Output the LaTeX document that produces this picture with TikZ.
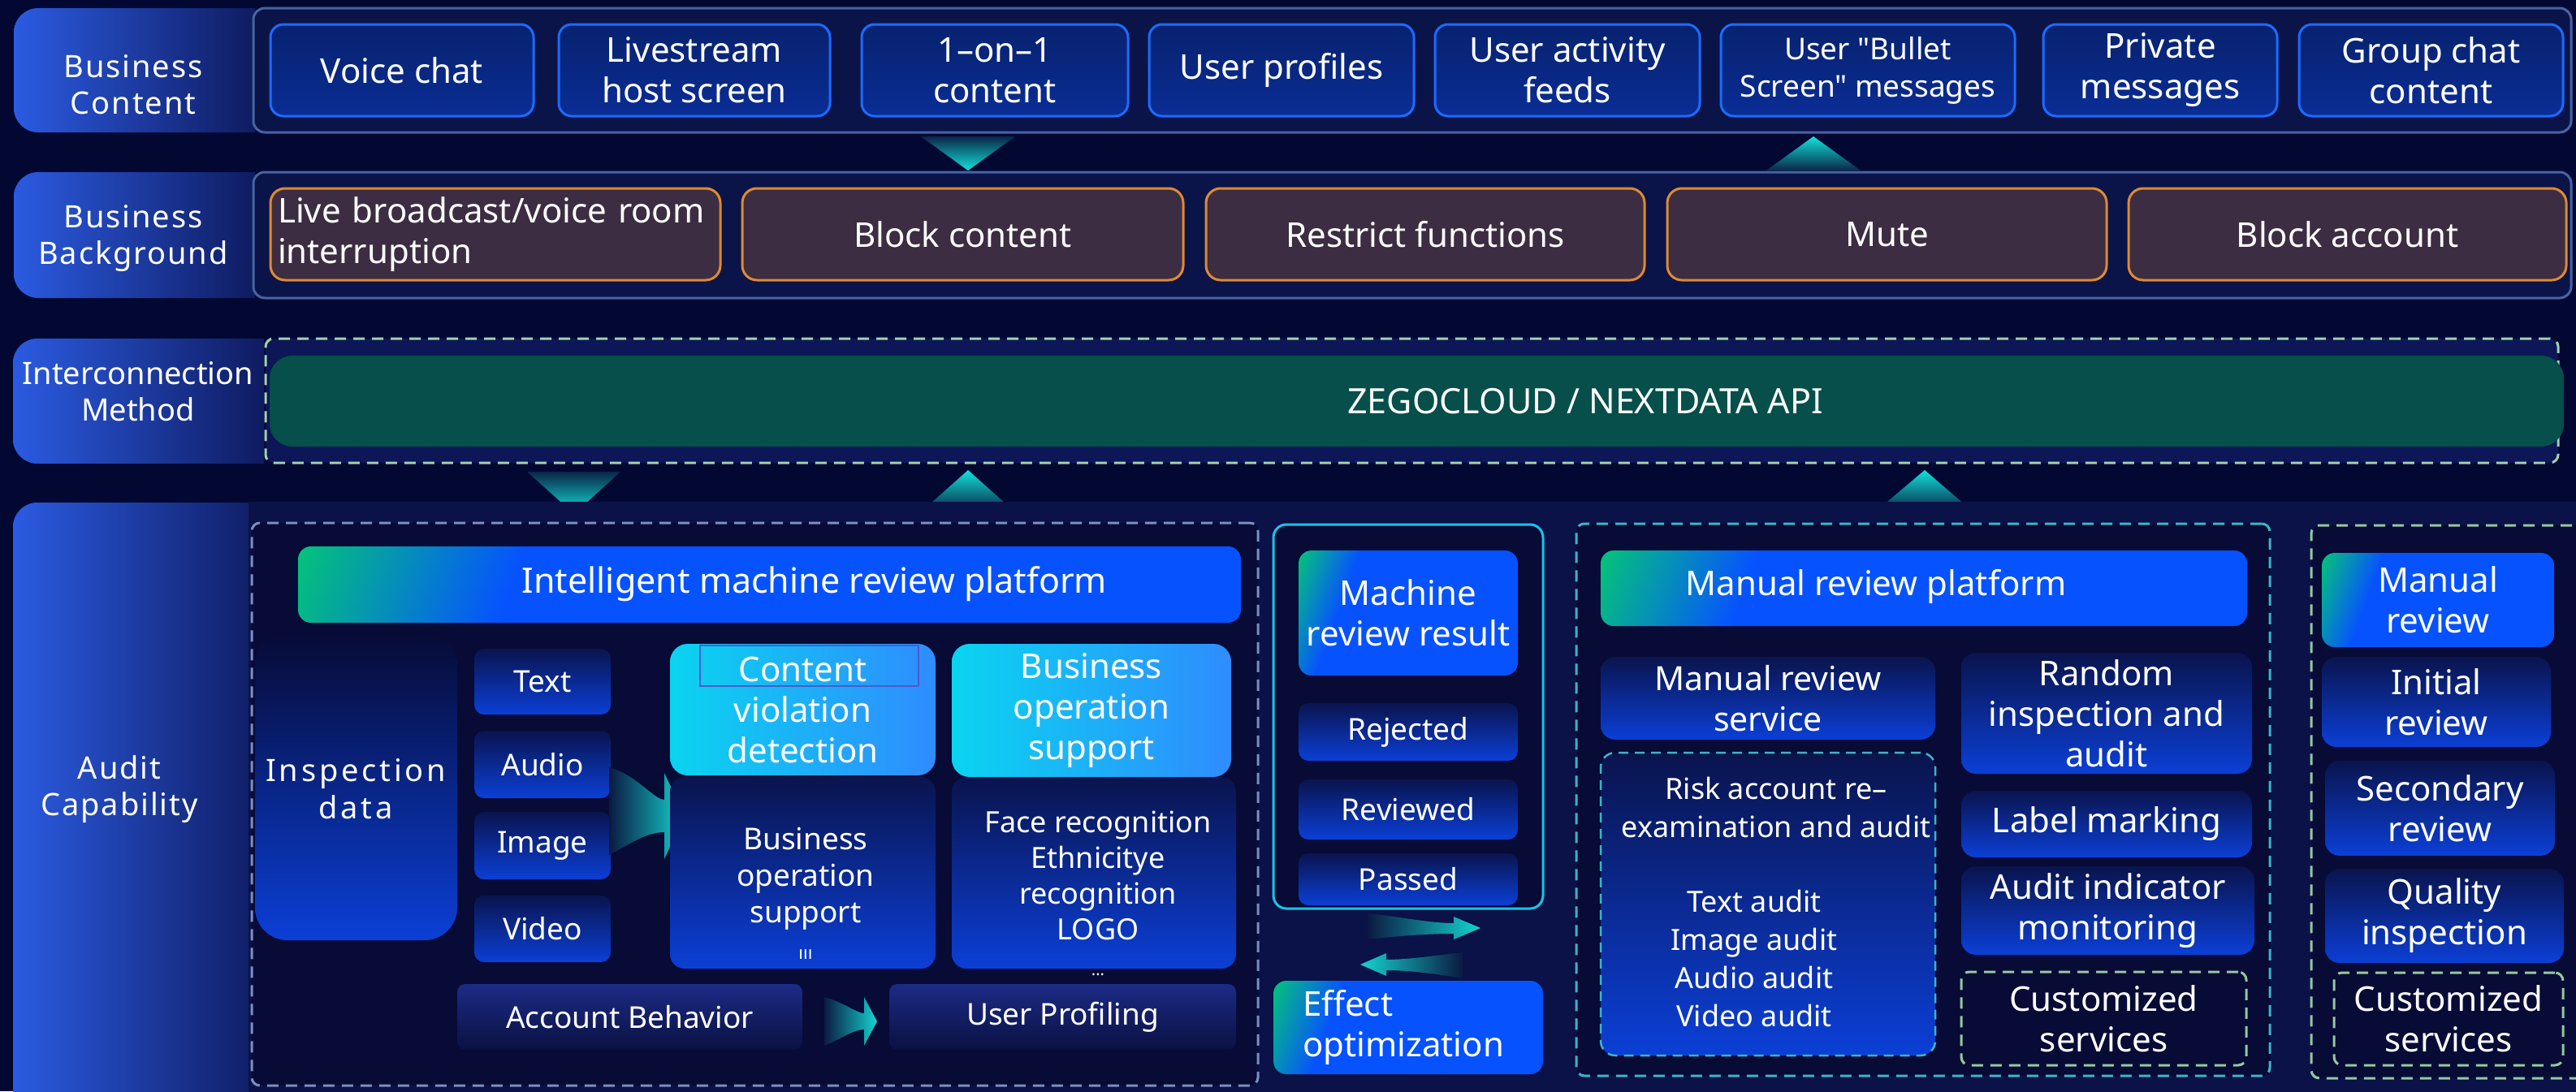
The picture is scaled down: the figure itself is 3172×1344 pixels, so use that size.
\documentclass[tikz,border=0pt]{standalone}
\usepackage{fontspec}
\setmainfont{Noto Sans}[Ligatures=TeXOff]
\newfontfamily\lblfont{Noto Sans}[LetterSpace=5,Ligatures=TeXOff]
\newfontfamily\inspfont{Noto Sans}[LetterSpace=10,Ligatures=TeXOff]
\definecolor{bgc}{HTML}{030833}
\definecolor{panelc}{HTML}{0B1449}
\definecolor{panelEdge}{HTML}{4863A3}
\definecolor{row3c}{HTML}{0D1656}
\definecolor{panel4}{HTML}{0A1247}
\definecolor{innerc}{HTML}{070B36}
\definecolor{lblL}{HTML}{2B5BE2}
\definecolor{lblR}{HTML}{0B1350}
\definecolor{cbTop}{HTML}{08226F}
\definecolor{cbBot}{HTML}{0A2D95}
\definecolor{cbEdge}{HTML}{1C6BFF}
\definecolor{obFill}{HTML}{3C2D42}
\definecolor{obEdge}{HTML}{DD8A33}
\definecolor{gTop}{HTML}{0A144E}
\definecolor{gBot}{HTML}{0B3FD6}
\definecolor{rTop}{HTML}{1C2B86}
\definecolor{rBot}{HTML}{0A1142}
\definecolor{lbL}{HTML}{0AD4F0}
\definecolor{lbR}{HTML}{2F8CFF}
\definecolor{tGreen}{HTML}{05C27A}
\definecolor{tTeal}{HTML}{0590B8}
\definecolor{tBlue}{HTML}{0652FF}
\definecolor{apiG}{HTML}{064F4A}
\definecolor{dashG}{HTML}{A0D0B0}
\definecolor{dashB}{HTML}{7C8EC2}
\definecolor{dashC}{HTML}{3CB4C8}
\definecolor{dashLG}{HTML}{96C89E}
\definecolor{cyanEdge}{HTML}{18C4E8}
\definecolor{triDark}{HTML}{0A2648}
\definecolor{cyanc}{HTML}{12E2DA}
\definecolor{swL}{HTML}{0B1A42}
\definecolor{swR}{HTML}{14D4D0}
\definecolor{rectc}{HTML}{4A5CC8}
\pgfdeclarehorizontalshading{titleshade}{100bp}{color(0bp)=(tGreen); color(18bp)=(tGreen); color(25bp)=(tTeal); color(33bp)=(tBlue); color(100bp)=(tBlue)}
\newcommand\fzM{\fontsize{42}{50}\selectfont}
\newcommand\fzS{\fontsize{37}{45}\selectfont}
\newcommand\fzB{\fontsize{37}{46}\selectfont}
\newcommand\fzT{\fontsize{36}{47}\selectfont}
\newcommand\fzL{\lblfont\fontsize{38}{45}\selectfont}
\newcommand\bxx[7]{%
  \pgfmathsetmacro\bw{#5-#3}%
  \pgfmathsetmacro\bh{#6-#4}%
  \node[#2, minimum width=\bw pt, minimum height=\bh pt, anchor=north west] (#1) at (#3,#4) {#7};%
}
\newcommand\lblbox[5]{%
  \begin{scope}
  \clip (#2,#3) rectangle (#4,#5);
  \pgfmathsetmacro\bw{#4-#2+40}%
  \pgfmathsetmacro\bh{#5-#3}%
  \node[lbl, minimum width=\bw pt, minimum height=\bh pt, anchor=north west] (#1) at (#2,#3) {};
  \end{scope}%
}
\begin{document}
\begin{tikzpicture}[x=1pt,y=-1pt,
  every node/.style={text=white, align=center, inner sep=0pt, outer sep=0pt},
  lbl/.style={left color=lblL, right color=lblR, rounded corners=30pt},
  lbltxt/.style={font=\fzL},
  panelbox/.style={fill=panelc, draw=panelEdge, line width=3pt, rounded corners=14pt},
  cbox/.style={top color=cbTop, bottom color=cbBot, draw=cbEdge, line width=3pt, rounded corners=16pt, font=\fzM},
  obox/.style={fill=obFill, draw=obEdge, line width=3pt, rounded corners=18pt, font=\fzM},
  gbox/.style={top color=gTop, bottom color=gBot, rounded corners=18pt, font=\fzM},
  gboxS/.style={top color=gTop, bottom color=gBot, rounded corners=18pt, font=\fzS},
  rbox/.style={top color=rTop, bottom color=rBot, rounded corners=10pt, font=\fzS},
  lbox/.style={left color=lbL, right color=lbR, rounded corners=22pt, font=\fzM},
  tbox/.style={shade, shading=titleshade, shading angle=-20, rounded corners=16pt, font=\fzM},
  dashbox/.style={line width=3pt, dash pattern=on 14pt off 9pt, rounded corners=10pt},
  tri/.style={draw=none}
]
\useasboundingbox (0,0) rectangle (3172,1344);
\clip (0,0) rectangle (3172,1344);
\fill[bgc] (0,0) rectangle (3172,1344);

% ---------- Row 1: Business Content
\lblbox{bcL}{17}{10}{314}{163}
\bxx{bcP}{panelbox}{312}{10}{3166}{163}{}
\node[lbltxt] (bcT) at (164,104) {Business\\Content};
\bxx{c1}{cbox}{333}{30}{657}{143}{Voice chat}
\bxx{c2}{cbox}{688}{30}{1022}{143}{Livestream\\host screen}
\bxx{c3}{cbox}{1061}{30}{1389}{143}{1–on–1\\content}
\bxx{c4}{cbox}{1415}{30}{1741}{143}{User profiles}
\bxx{c5}{cbox}{1767}{30}{2093}{143}{User activity\\feeds}
\bxx{c6}{cbox, font=\fzB}{2119}{30}{2481}{143}{User "Bullet\\Screen" messages}
\bxx{c7}{cbox}{2516}{30}{2804}{143}{Private\\messages}
\bxx{c8}{cbox}{2831}{30}{3156}{143}{Group chat\\content}

% ---------- Row 2: Business Background
\lblbox{bbL}{17}{212}{314}{367}
\bxx{bbP}{panelbox}{312}{212}{3166}{367}{}
\node[lbltxt] (bbT) at (164,294) {Business\\Background};
\bxx{o1}{obox, text width=536pt, align=left}{333}{232}{887}{345}{Live broadcast/voice room\\interruption}
\bxx{o2}{obox}{914}{232}{1457}{345}{Block content}
\bxx{o3}{obox}{1485}{232}{2025}{345}{Restrict functions}
\bxx{o4}{obox}{2053}{232}{2594}{345}{Mute}
\bxx{o5}{obox}{2621}{232}{3160}{345}{Block account}

% triangles row1-row2
\shade[tri, top color=triDark, bottom color=cyanc] (1134,168) -- (1250,168) -- (1192,210) -- cycle;
\shade[tri, top color=cyanc, bottom color=triDark] (2175,210) -- (2291,210) -- (2233,168) -- cycle;

% ---------- Row 3: Interconnection Method
\lblbox{imL}{16}{417}{325}{571}
\node[font=\fontsize{38}{45}\selectfont] (imT) at (170,482) {Interconnection\\Method};
\bxx{imP}{dashbox, draw=dashG, fill=row3c}{327}{417}{3150}{570}{}
\bxx{api}{fill=apiG, rounded corners=28pt}{332}{438}{3157}{550}{}
\node[font=\fontsize{43}{50}\selectfont] (apiT) at (1952,494) {ZEGOCLOUD / NEXTDATA API};

% triangles row3-row4
\shade[tri, top color=triDark, bottom color=cyanc] (649,581) -- (764,581) -- (707,633) -- cycle;
\shade[tri, top color=cyanc, bottom color=triDark] (1136,629) -- (1248,629) -- (1192,579) -- cycle;
\shade[tri, top color=cyanc, bottom color=triDark] (2311,629) -- (2428,629) -- (2370,579) -- cycle;

% ---------- Row 4: Audit Capability
\lblbox{acL}{16}{619}{330}{1390}
\bxx{acP}{fill=panel4}{306}{618}{3200}{1400}{}
\node[lbltxt] (acT) at (147,972) {Audit\\Capability};

% machine review dashed box
\bxx{mdB}{dashbox, draw=dashB, fill=innerc}{310}{644}{1549}{1337}{}
\bxx{tM}{tbox}{367}{673}{1528}{767}{}
\node[font=\fontsize{43}{50}\selectfont] (tMT) at (1003,719) {Intelligent machine review platform};
\bxx{insp}{top color=innerc, bottom color=gBot, rounded corners=40pt}{314}{780}{563}{1158}{}
\node[font=\inspfont\fontsize{38}{46}\selectfont] (inspT) at (438,972) {Inspection\\data};
\bxx{tText}{gboxS, rounded corners=12pt}{584}{799}{752}{880}{Text}
\bxx{tAudio}{gboxS, rounded corners=12pt}{584}{900}{752}{983}{Audio}
\bxx{tImage}{gboxS, rounded corners=12pt}{584}{1000}{752}{1083}{Image}
\bxx{tVideo}{gboxS, rounded corners=12pt}{584}{1103}{752}{1185}{Video}
\shade[left color=swL, right color=swR] (750,945) .. controls (785,955) and (805,985) .. (818,985) -- (818,952) -- (843,1005) -- (818,1058) -- (818,1025) .. controls (795,1025) and (775,1040) .. (750,1053) -- cycle;
\bxx{cvd}{lbox}{825}{793}{1152}{955}{Content\\violation\\detection}
\bxx{cvdR}{draw=rectc, line width=2.5pt}{862}{795}{1131}{845}{}
\bxx{bosL}{lbox}{1172}{793}{1516}{957}{Business\\operation\\support}
\bxx{bosD}{gboxS}{825}{957}{1152}{1193}{}
\node[font=\fzS] (bosDT) at (992,1100) {Business\\operation\\support\\{\fontsize{22}{24}\selectfont\bfseries ııı}};
\bxx{face}{gboxS}{1172}{957}{1522}{1193}{}
\node[font=\fontsize{36}{44}\selectfont] (faceT) at (1352,1100) {Face recognition\\Ethnicitye\\recognition\\LOGO\\{\fontsize{20}{14}\selectfont ...}};
\bxx{acc}{rbox}{563}{1212}{988}{1293}{Account Behavior}
\shade[left color=swL, right color=swR] (1015,1228) .. controls (1040,1235) and (1055,1248) .. (1064,1248) -- (1064,1228) -- (1080,1258) -- (1064,1288) -- (1064,1268) .. controls (1050,1268) and (1035,1280) .. (1015,1288) -- cycle;
\bxx{upf}{rbox}{1095}{1212}{1522}{1293}{User Profiling}

% machine review result
\bxx{mrP}{draw=cyanEdge, line width=3pt, fill=innerc, rounded corners=16pt}{1568}{646}{1900}{1119}{}
\bxx{mrr}{tbox}{1599}{678}{1869}{832}{Machine\\review result}
\bxx{rej}{gboxS, rounded corners=12pt}{1599}{866}{1869}{937}{Rejected}
\bxx{rev}{gboxS, rounded corners=12pt}{1599}{960}{1869}{1034}{Reviewed}
\bxx{pas}{gboxS, rounded corners=12pt}{1599}{1051}{1869}{1115}{Passed}
\shade[left color=swL, right color=swR] (1684,1125) .. controls (1730,1130) and (1760,1137) .. (1790,1137) -- (1790,1129) -- (1823,1143) -- (1790,1157) -- (1790,1150) .. controls (1760,1150) and (1730,1152) .. (1684,1157) -- cycle;
\shade[left color=swR, right color=swL] (1801,1173) .. controls (1760,1178) and (1730,1182) .. (1707,1182) -- (1707,1174) -- (1675,1188) -- (1707,1202) -- (1707,1195) .. controls (1730,1195) and (1760,1198) .. (1801,1205) -- cycle;
\bxx{eff}{tbox, text width=260pt, align=left}{1568}{1208}{1900}{1323}{Effect\\optimization}

% manual review platform
\bxx{mdb}{dashbox, draw=dashC, fill=innerc}{1941}{645}{2795}{1325}{}
\bxx{mrp}{tbox}{1971}{678}{2767}{771}{}
\node[font=\fzM] (mrpT) at (2310,722) {Manual review platform};
\bxx{mrs}{gbox, font=\fontsize{41}{50}\selectfont}{1971}{809}{2383}{911}{Manual review\\service}
\bxx{risk}{gbox, draw=dashC, line width=2.5pt, dash pattern=on 12pt off 8pt}{1971}{927}{2383}{1300}{}
\node[font=\fzT] (riskT) at (2187,994) {Risk account re–\\examination and audit};
\node[font=\fzT] (auditT) at (2160,1180) {Text audit\\Image audit\\Audio audit\\Video audit};
\bxx{rnd}{gbox}{2415}{804}{2773}{953}{Random\\inspection and\\audit}
\bxx{lbm}{gbox}{2415}{974}{2773}{1056}{Label marking}
\bxx{aim}{gbox}{2415}{1067}{2776}{1176}{Audit indicator\\monitoring}
\bxx{cs1}{dashbox, draw=dashLG, fill=innerc, font=\fzM}{2415}{1197}{2766}{1312}{Customized\\services}

% right column
\bxx{rdp}{dashbox, draw=dashLG, fill=innerc}{2846}{647}{3200}{1328}{}
\bxx{mr2}{tbox}{2859}{681}{3145}{797}{Manual\\review}
\bxx{ini}{gbox}{2859}{809}{3141}{920}{Initial\\review}
\bxx{sec}{gbox}{2863}{937}{3146}{1054}{Secondary\\review}
\bxx{qua}{gbox}{2863}{1070}{3157}{1186}{Quality\\inspection}
\bxx{cs2}{dashbox, draw=dashLG, fill=innerc, font=\fzM}{2874}{1198}{3156}{1312}{Customized\\services}
\end{tikzpicture}
\end{document}
